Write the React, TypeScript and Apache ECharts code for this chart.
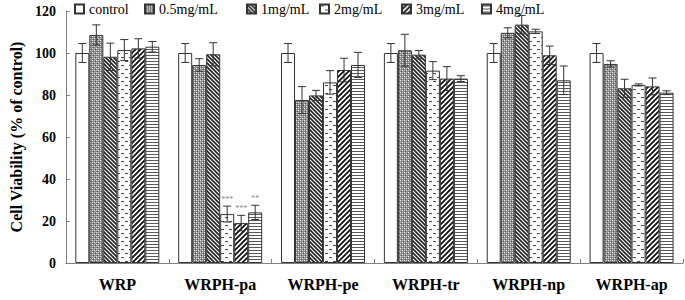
import React, { useEffect, useRef } from 'react';
import * as echarts from 'echarts';

const categories = ['WRP', 'WRPH-pa', 'WRPH-pe', 'WRPH-tr', 'WRPH-np', 'WRPH-ap'];
const seriesNames = ['control', '0.5mg/mL', '1mg/mL', '2mg/mL', '3mg/mL', '4mg/mL'];
const yTicks = { min: 0, max: 120, interval: 20 };

const controlValues = [100, 100, 100, 100, 100, 100];
const controlErrors = [4.5, 4.5, 4.5, 4.5, 4.5, 4.5];
const dose05Values = [108.6, 94.3, 77.6, 101.3, 109.6, 94.8];
const dose05Errors = [4.8, 3.0, 6.4, 7.6, 2.4, 1.5];
const dose1Values = [98.2, 99.4, 79.8, 99.2, 113.5, 83.2];
const dose1Errors = [6.5, 5.5, 2.4, 2.0, 4.4, 4.3];
const dose2Values = [101.4, 23.3, 86.0, 91.6, 110.3, 84.8];
const dose2Errors = [5.0, 3.8, 5.6, 4.3, 1.0, 0.5];
const dose3Values = [102.2, 19.0, 91.9, 87.8, 98.9, 84.1];
const dose3Errors = [4.6, 3.7, 5.6, 5.7, 4.4, 4.0];
const dose4Values = [103.0, 24.1, 94.3, 87.8, 87.0, 81.1];
const dose4Errors = [2.5, 3.4, 6.0, 1.4, 6.8, 0.9];

const significance = [
  ['', '', '', '', '', ''],
  ['', '', '', '', '', ''],
  ['', '', '', '', '', ''],
  ['', '***', '', '', '', ''],
  ['', '***', '', '', '', ''],
  ['', '**', '', '', '', ''],
];

const allValues = [controlValues, dose05Values, dose1Values, dose2Values, dose3Values, dose4Values];
const allErrors = [controlErrors, dose05Errors, dose1Errors, dose2Errors, dose3Errors, dose4Errors];

// layout constants
const BAR_W = 14;
const legendLefts = [74, 144, 246, 319, 401, 481];

function makeTile(w: number, h: number, draw: (ctx: CanvasRenderingContext2D) => void) {
  const c = document.createElement('canvas');
  c.width = w;
  c.height = h;
  const ctx = c.getContext('2d')!;
  ctx.fillStyle = '#ffffff';
  ctx.fillRect(0, 0, w, h);
  draw(ctx);
  return { image: c, repeat: 'repeat', imageWidth: w, imageHeight: h } as any;
}

function makePatterns() {
  const p05 = makeTile(4, 4, (ctx) => {
    ctx.fillStyle = '#8a8a8a';
    ctx.fillRect(0, 0, 4, 4);
    ctx.fillStyle = '#f0f0f0';
    ctx.fillRect(0, 0, 1, 1);
    ctx.fillRect(2, 2, 1, 1);
    ctx.fillStyle = '#c8c8c8';
    ctx.fillRect(2, 0, 1, 1);
    ctx.fillRect(0, 2, 1, 1);
    ctx.fillStyle = '#555';
    ctx.fillRect(1, 3, 1, 1);
    ctx.fillRect(3, 1, 1, 1);
  });
  const p1 = makeTile(4, 4, (ctx) => {
    ctx.strokeStyle = '#222';
    ctx.lineWidth = 1.6;
    ctx.beginPath();
    ctx.moveTo(-1, -1); ctx.lineTo(5, 5);
    ctx.moveTo(-1, 3); ctx.lineTo(1, 5);
    ctx.moveTo(3, -1); ctx.lineTo(5, 1);
    ctx.stroke();
  });
  const p2 = makeTile(8, 8, (ctx) => {
    ctx.fillStyle = '#4a4a4a';
    ctx.fillRect(1, 1, 3, 1);
    ctx.fillRect(5, 5, 3, 1);
  });
  const p3 = makeTile(5, 5, (ctx) => {
    ctx.strokeStyle = '#111';
    ctx.lineWidth = 1.8;
    ctx.beginPath();
    ctx.moveTo(-1, 6); ctx.lineTo(6, -1);
    ctx.moveTo(-1, 1); ctx.lineTo(1, -1);
    ctx.moveTo(4, 6); ctx.lineTo(6, 4);
    ctx.stroke();
  });
  const p4 = makeTile(4, 3, (ctx) => {
    ctx.fillStyle = '#5a5a5a';
    ctx.fillRect(0, 1, 4, 1);
  });
  return ['#ffffff', p05, p1, p2, p3, p4];
}

export default function App() {
  const ref = useRef<HTMLDivElement>(null);

  useEffect(() => {
    if (!ref.current) return;
    const chart = echarts.init(ref.current, undefined, { renderer: 'svg' });
    const fills = makePatterns();
    const serif = 'Liberation Serif';

    const barSeries = seriesNames.map((name, i) => ({
      name,
      type: 'bar',
      barWidth: BAR_W,
      barGap: '0%',
      data: allValues[i],
      itemStyle: { color: fills[i], borderColor: '#333', borderWidth: 1 },
      z: 2,
    }));

    const errSeries = seriesNames.map((name, i) => ({
      type: 'custom',
      name: name + ' err',
      z: 5,
      silent: true,
      data: categories.map((_, j) => [j, allValues[i][j], allErrors[i][j], j]),
      renderItem: (params: any, api: any) => {
        const j = api.value(3);
        const v = api.value(1);
        const e = api.value(2);
        const base = api.coord([api.value(0), v]);
        const x = base[0] + (i - 2.5) * BAR_W;
        const yT = api.coord([api.value(0), v + e])[1];
        const yB = api.coord([api.value(0), v - e])[1];
        const cap = 4;
        const st = { stroke: '#333', lineWidth: 1 };
        const children: any[] = [
          { type: 'line', shape: { x1: x, y1: yT, x2: x, y2: yB }, style: st },
          { type: 'line', shape: { x1: x - cap, y1: yT, x2: x + cap, y2: yT }, style: st },
          { type: 'line', shape: { x1: x - cap, y1: yB, x2: x + cap, y2: yB }, style: st },
        ];
        const sig = significance[i][j];
        if (sig) {
          children.push({
            type: 'text',
            style: {
              text: sig,
              x,
              y: yT - 3,
              align: 'center',
              verticalAlign: 'bottom',
              fontSize: 8,
              fill: '#888',
              fontFamily: serif,
            },
          });
        }
        return { type: 'group', children };
      },
    }));

    const legends = seriesNames.map((name, i) => ({
      data: [{ name, icon: 'rect' }],
      left: legendLefts[i],
      top: 2,
      itemWidth: 9,
      itemHeight: 9,
      padding: 0,
      textStyle: { fontFamily: serif, fontSize: 14, color: '#000' },
    }));

    chart.setOption({
      animation: false,
      backgroundColor: '#ffffff',
      legend: legends,
      grid: { left: 47, right: 2, top: 11, bottom: 37, containLabel: false },
      xAxis: {
        type: 'category',
        data: categories,
        axisLine: { show: true, lineStyle: { color: '#808080', width: 1 } },
        axisTick: { show: true, inside: true, length: 4, lineStyle: { color: '#808080' } },
        axisLabel: { fontFamily: serif, fontWeight: 'bold', fontSize: 16, color: '#000', margin: 13 },
        splitLine: { show: false },
      },
      yAxis: {
        type: 'value',
        min: yTicks.min,
        max: yTicks.max,
        interval: yTicks.interval,
        name: 'Cell Viability (% of control)',
        nameLocation: 'middle',
        nameGap: 38,
        nameTextStyle: { fontFamily: serif, fontWeight: 'bold', fontSize: 16, color: '#000' },
        axisLine: { show: true, lineStyle: { color: '#808080', width: 1 } },
        axisTick: { show: true, inside: true, length: 4, lineStyle: { color: '#808080' } },
        axisLabel: { fontFamily: serif, fontWeight: 'bold', fontSize: 14, color: '#000', margin: 10 },
        splitLine: { show: false },
      },
      series: [...barSeries, ...errSeries],
    } as any);

    return () => chart.dispose();
  }, []);

  return (
    <div
      ref={ref}
      style={{ position: 'fixed', left: 0, top: 0, width: 685, height: 300, background: '#fff' }}
    />
  );
}
